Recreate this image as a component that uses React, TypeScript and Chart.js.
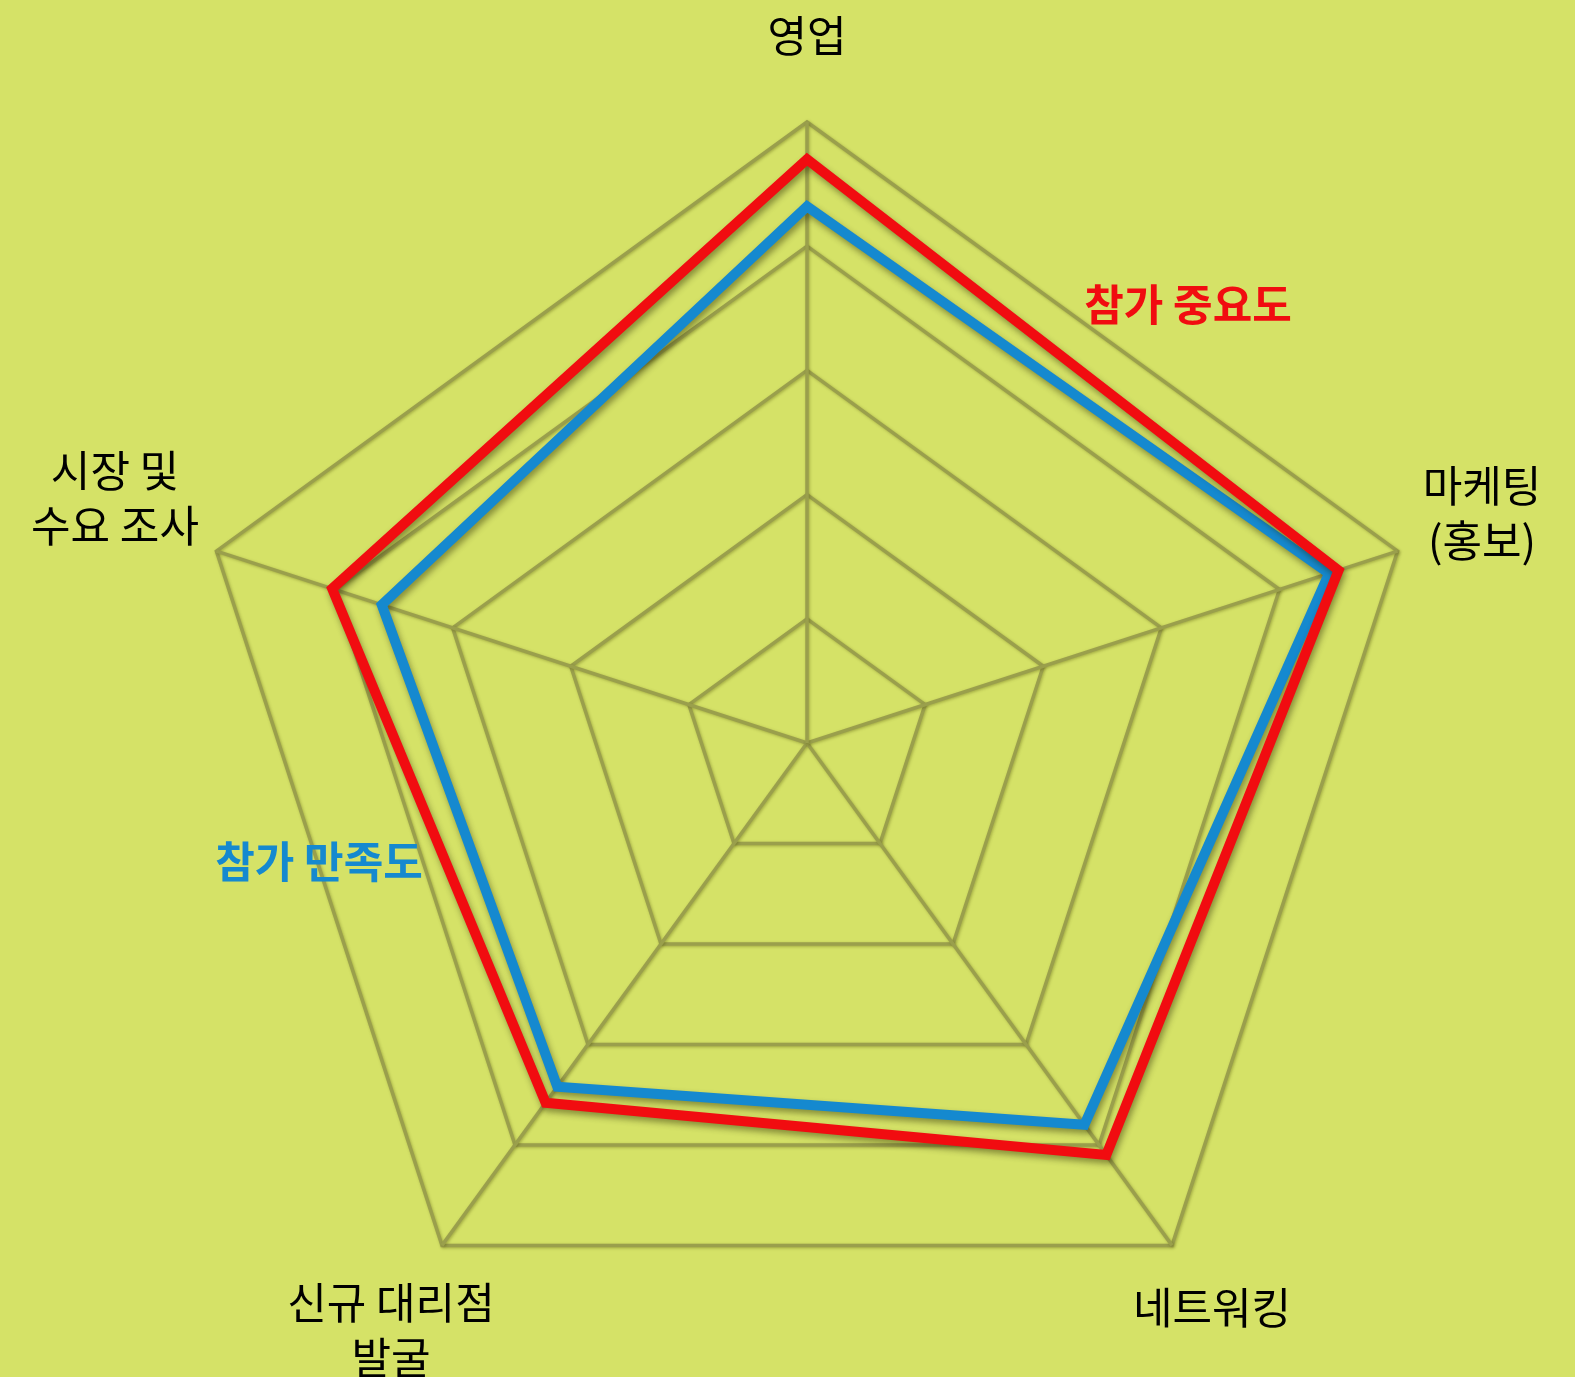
import React, { useEffect, useRef } from 'react';
import { Chart, registerables } from 'chart.js';

Chart.register(...registerables);

// ---- data ----
const categories: string[][] = [
  ['영업'],
  ['마케팅', '(홍보)'],
  ['네트워킹'],
  ['신규 대리점', '발굴'],
  ['시장 및', '수요 조사'],
];
const seriesNames = ['참가 중요도', '참가 만족도'];
const importance = [4.7, 4.5, 4.1, 3.58, 4.02];
const satisfaction = [4.32, 4.42, 3.8, 3.42, 3.6];
const scaleMin = 0;
const scaleMax = 5;
const scaleStep = 1;

// ---- styles ----
const BG = '#d5e267';
const GRID = '#9a9f4c';
const RED = '#f10c10';
const BLUE = '#1589cf';
const FONT = '"Noto Sans CJK KR", "Noto Sans", sans-serif';

// label block centres relative to the radar centre (reference radius 621)
const REF_R = 621;
const labelOffsets: [number, number][] = [
  [0, -707],
  [675, -230],
  [405, 565],
  [-416, 587],
  [-692, -245],
];
const seriesLabelOffsets: [number, number][] = [
  [381, -438],
  [-488, 119],
];
const LINE_H = 55;

const decorPlugin = {
  id: 'decor',
  beforeDraw(chart: any) {
    const ctx = chart.ctx;
    ctx.save();
    ctx.fillStyle = BG;
    ctx.fillRect(0, 0, chart.width, chart.height);
    ctx.restore();
    ctx.shadowColor = 'rgba(70,70,0,0.35)';
    ctx.shadowBlur = 3;
    ctx.shadowOffsetX = 1;
    ctx.shadowOffsetY = 1;
  },
  beforeDatasetsDraw(chart: any) {
    const ctx = chart.ctx;
    ctx.shadowColor = 'rgba(40,40,0,0.45)';
    ctx.shadowBlur = 6;
    ctx.shadowOffsetX = 2;
    ctx.shadowOffsetY = 4;
  },
  afterDatasetsDraw(chart: any) {
    const ctx = chart.ctx;
    ctx.shadowColor = 'rgba(0,0,0,0)';
    ctx.shadowBlur = 0;
    ctx.shadowOffsetX = 0;
    ctx.shadowOffsetY = 0;
  },
  afterDraw(chart: any) {
    const ctx = chart.ctx;
    const r = chart.scales.r;
    const k = r.drawingArea / REF_R;
    ctx.save();
    ctx.textAlign = 'center';
    ctx.textBaseline = 'middle';
    ctx.fillStyle = '#000000';
    ctx.font = `43px ${FONT}`;
    categories.forEach((lines, i) => {
      const [dx, dy] = labelOffsets[i];
      const cx = r.xCenter + dx * k;
      const cy = r.yCenter + dy * k;
      const n = lines.length;
      lines.forEach((t, j) => {
        ctx.fillText(t, cx, cy + (j - (n - 1) / 2) * LINE_H);
      });
    });
    ctx.font = `bold 43px ${FONT}`;
    chart.data.datasets.forEach((ds: any, i: number) => {
      const [dx, dy] = seriesLabelOffsets[i];
      ctx.fillStyle = ds.borderColor;
      ctx.fillText(ds.label, r.xCenter + dx * k, r.yCenter + dy * k);
    });
    ctx.restore();
  },
};

export default function App() {
  const ref = useRef<HTMLCanvasElement | null>(null);
  useEffect(() => {
    if (!ref.current) return;
    const chart = new Chart(ref.current, {
      type: 'radar',
      data: {
        labels: categories.map((c) => c.join(' ')),
        datasets: [
          {
            label: seriesNames[0],
            data: importance,
            borderColor: RED,
            backgroundColor: 'transparent',
            borderWidth: 10,
            borderJoinStyle: 'miter',
            fill: false,
            pointRadius: 0,
            pointHoverRadius: 0,
          },
          {
            label: seriesNames[1],
            data: satisfaction,
            borderColor: BLUE,
            backgroundColor: 'transparent',
            borderWidth: 10,
            borderJoinStyle: 'miter',
            fill: false,
            pointRadius: 0,
            pointHoverRadius: 0,
          },
        ],
      },
      options: {
        responsive: false,
        animation: false,
        layout: { padding: { left: 186, top: 122, right: 147, bottom: 13 } },
        plugins: { legend: { display: false }, tooltip: { enabled: false } },
        scales: {
          r: {
            min: scaleMin,
            max: scaleMax,
            ticks: { display: false, stepSize: scaleStep },
            pointLabels: { display: false },
            grid: { color: GRID, lineWidth: 3.5 },
            angleLines: { color: GRID, lineWidth: 3.5 },
          },
        },
      },
      plugins: [decorPlugin],
    });
    return () => chart.destroy();
  }, []);
  return (
    <div style={{ position: 'absolute', left: 0, top: 0, width: 1575, height: 1377, background: BG }}>
      <canvas ref={ref} width={1575} height={1377} style={{ display: 'block', width: 1575, height: 1377 }} />
    </div>
  );
}
